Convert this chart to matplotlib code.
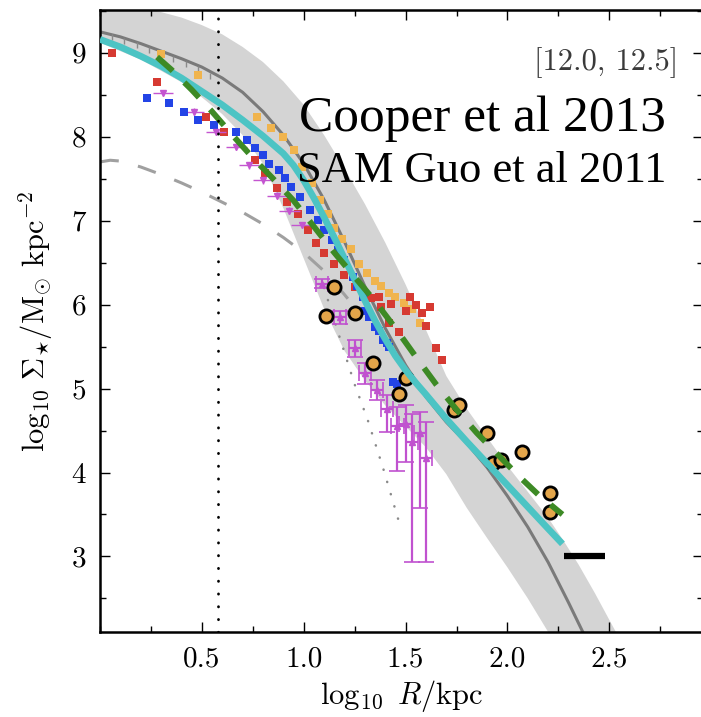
import matplotlib
matplotlib.use("Agg")
import matplotlib.pyplot as plt
from matplotlib.ticker import MultipleLocator

plt.rcParams['mathtext.fontset'] = 'cm'
plt.rcParams['font.family'] = ['cmr10', 'DejaVu Serif']
plt.rcParams['axes.formatter.use_mathtext'] = True

# ---------------- data ----------------
band_up_x = [0.0, 0.2, 0.4, 0.5, 0.6, 0.7, 0.8, 0.9, 1.0, 1.1, 1.2, 1.3, 1.4, 1.5, 1.6, 1.7,
             1.8, 1.9, 2.0, 2.1, 2.2, 2.28, 2.35, 2.43, 2.51, 2.6]
band_up_y = [9.62, 9.55, 9.42, 9.33, 9.22, 9.07, 8.89, 8.66, 8.38, 8.02, 7.62, 7.2, 6.74, 6.24,
             5.7, 5.15, 4.76, 4.42, 4.08, 3.77, 3.46, 3.17, 2.9, 2.56, 2.2, 1.8]
band_lo_x = [0.0, 0.2, 0.4, 0.5, 0.6, 0.7, 0.8, 0.9, 1.0, 1.1, 1.2, 1.3, 1.4, 1.5, 1.6, 1.7,
             1.8, 1.9, 2.0, 2.1, 2.2, 2.3]
band_lo_y = [9.12, 8.92, 8.65, 8.47, 8.27, 8.02, 7.68, 7.15, 6.55, 5.95, 5.45, 5.1, 4.8, 4.55,
             4.3, 3.98, 3.58, 3.22, 2.87, 2.5, 2.1, 1.75]

gray_x = [0.0, 0.1, 0.2, 0.3, 0.4, 0.5, 0.6, 0.7, 0.8, 0.9, 1.0, 1.1, 1.2, 1.3, 1.4, 1.5, 1.6,
          1.7, 1.8, 1.9, 2.0, 2.1, 2.2, 2.3, 2.4]
gray_y = [9.25, 9.19, 9.11, 9.02, 8.93, 8.83, 8.70, 8.53, 8.30, 8.02, 7.68, 7.25, 6.75, 6.22,
          5.72, 5.28, 4.90, 4.60, 4.35, 4.06, 3.72, 3.35, 2.93, 2.45, 1.95]

gray_tick_x = [0.06, 0.12, 0.18, 0.24, 0.30, 0.36, 0.42, 0.48, 0.54]
gray_tick_y = [9.22, 9.18, 9.13, 9.07, 9.02, 8.96, 8.90, 8.84, 8.76]

dash_x = [0.0, 0.05, 0.1, 0.2, 0.3, 0.4, 0.5, 0.6, 0.7, 0.8, 0.9, 1.0, 1.1, 1.2, 1.28]
dash_y = [7.70, 7.72, 7.71, 7.64, 7.55, 7.45, 7.34, 7.22, 7.10, 6.96, 6.80, 6.62, 6.40, 6.12, 5.88]

dot_x = [1.1, 1.17, 1.25, 1.315, 1.39, 1.48]
dot_y = [6.2, 5.66, 5.05, 4.62, 4.05, 3.31]

cyan_x = [0.0, 0.1, 0.2, 0.3, 0.4, 0.5, 0.6, 0.7, 0.8, 0.9, 0.95, 1.0, 1.05, 1.1, 1.15, 1.2,
          1.25, 1.3, 1.35, 1.4, 1.45, 1.5, 1.55, 1.6, 1.7, 1.8, 1.9, 2.0, 2.1, 2.2, 2.27]
cyan_y = [9.16, 9.07, 8.96, 8.84, 8.70, 8.54, 8.38, 8.20, 8.01, 7.80, 7.66, 7.48, 7.27, 7.04,
          6.80, 6.55, 6.30, 6.05, 5.81, 5.59, 5.39, 5.22, 5.07, 4.93, 4.64, 4.37, 4.11, 3.85,
          3.59, 3.33, 3.15]

green_x = [0.28, 0.35, 0.45, 0.55, 0.65, 0.75, 0.85, 0.95, 1.05, 1.15, 1.25, 1.35, 1.45, 1.55,
           1.65, 1.75, 1.85, 1.95, 2.05, 2.15, 2.27]
green_y = [8.95, 8.80, 8.56, 8.30, 8.02, 7.75, 7.50, 7.24, 6.93, 6.62, 6.33, 6.04, 5.72, 5.38,
           5.05, 4.75, 4.47, 4.22, 3.97, 3.74, 3.50]

red_x = [0.06, 0.28, 0.52, 0.61, 0.76, 0.81, 0.87, 0.92, 0.97, 1.02, 1.06, 1.10, 1.15, 1.20,
         1.25, 1.29, 1.33, 1.37, 1.38, 1.42, 1.43, 1.47, 1.50, 1.52, 1.55, 1.58, 1.60, 1.62,
         1.65, 1.68]
red_y = [9.00, 8.65, 8.24, 8.06, 7.72, 7.57, 7.39, 7.22, 7.08, 6.89, 6.73, 6.61, 6.49, 6.35,
         6.21, 6.14, 6.08, 6.09, 5.97, 5.78, 6.01, 5.67, 5.92, 6.09, 5.99, 5.90, 5.75, 5.97,
         5.48, 5.34]

blue_x = [0.23, 0.34, 0.41, 0.48, 0.56, 0.67, 0.72, 0.76, 0.80, 0.83, 0.88, 0.91, 0.94, 0.98,
          1.03, 1.07, 1.10, 1.14, 1.17, 1.20, 1.24, 1.26, 1.29, 1.30, 1.32, 1.35, 1.37, 1.39,
          1.41, 1.42, 1.44, 1.46]
blue_y = [8.46, 8.40, 8.30, 8.20, 8.14, 8.06, 7.96, 7.87, 7.78, 7.68, 7.60, 7.51, 7.40, 7.28,
          7.13, 7.01, 6.89, 6.77, 6.65, 6.53, 6.33, 6.22, 6.09, 5.93, 5.85, 5.73, 5.69, 5.58,
          5.54, 5.49, 5.08, 5.06]

orange_x = [0.30, 0.48, 0.77, 0.84, 0.90, 0.95, 0.99, 1.04, 1.08, 1.12, 1.15, 1.19, 1.23,
            1.27, 1.31, 1.35, 1.38, 1.42, 1.45, 1.49, 1.53, 1.57, 1.60]
orange_y = [8.98, 8.74, 8.24, 8.10, 8.00, 7.84, 7.64, 7.45, 7.25, 7.08, 6.91, 6.78, 6.66,
            6.49, 6.38, 6.28, 6.22, 6.14, 6.09, 6.02, 5.95, 5.78, 5.75]

mag_up_x = [0.31, 0.46, 0.57, 0.67, 0.73, 0.80, 0.87, 0.93, 0.99]
mag_up_y = [8.52, 8.30, 8.06, 7.88, 7.66, 7.48, 7.30, 7.12, 6.95]

mag_lo_x = [1.09, 1.18, 1.25, 1.30, 1.36, 1.41, 1.46, 1.50, 1.53, 1.57, 1.60]
mag_lo_y = [6.25, 5.85, 5.48, 5.18, 4.98, 4.76, 4.56, 4.58, 4.36, 4.47, 4.17]
mag_lo_em = [0.05, 0.08, 0.10, 0.12, 0.12, 0.28, 0.54, 0.46, 1.43, 0.89, 1.24]
mag_lo_ep = [0.05, 0.08, 0.10, 0.12, 0.12, 0.16, 0.22, 0.22, 0.34, 0.25, 0.43]

circ_x = [1.11, 1.15, 1.25, 1.34, 1.47, 1.50, 1.74, 1.76, 1.90, 1.93, 1.97, 2.07, 2.21, 2.21]
circ_y = [5.87, 6.21, 5.90, 5.31, 4.93, 5.12, 4.75, 4.80, 4.47, 4.11, 4.15, 4.25, 3.75, 3.53]

bar_x = [2.28, 2.48]
bar_y = [3.0, 3.0]
vline_x = 0.58

# ---------------- figure ----------------
fig = plt.figure(figsize=(7.01, 7.17), dpi=100)
ax = fig.add_axes([100/701, 85/717, 603/701, 622/717])

poly_x = list(band_up_x) + list(band_lo_x[::-1])
poly_y = list(band_up_y) + list(band_lo_y[::-1])
ax.fill(poly_x, poly_y, color='#d4d4d4', lw=0, zorder=1)

ax.plot(gray_x, gray_y, color='#7a7a7a', lw=2.2, zorder=2)
ax.vlines(gray_tick_x, [y - 0.07 for y in gray_tick_y], gray_tick_y, color='#8a8a8a', lw=1.0, zorder=2)
ax.plot(dash_x, dash_y, color='#a0a0a0', lw=2.2, ls=(0, (6.2, 6.5)), zorder=2)
ax.plot(dot_x, dot_y, color='#8a8a8a', lw=1.8, ls=(0, (0.1, 5.0)), dash_capstyle='round', zorder=2)

ms = 5.2
ax.plot(orange_x, orange_y, 's', color='#f0b44e', ms=ms, mew=0, zorder=3)
ax.plot(red_x, red_y, 's', color='#d63a32', ms=ms, mew=0, zorder=3)
ax.errorbar(mag_up_x, mag_up_y, xerr=0.05, yerr=0.04, fmt='v', color='#c455d0',
            ms=5, elinewidth=1.0, capsize=0, zorder=3)
ax.plot(blue_x, blue_y, 's', color='#2344e6', ms=ms, mew=0, zorder=3)
ax.errorbar(mag_lo_x, mag_lo_y, yerr=[mag_lo_em, mag_lo_ep], xerr=0.03, fmt='^',
            color='#c052cf', ms=5, elinewidth=1.6, capsize=6, capthick=1.2, zorder=3)

ax.plot(circ_x, circ_y, 'o', mfc='#e3a54a', mec='black', ms=9.5, mew=2.0, zorder=4)
ax.plot(cyan_x, cyan_y, color='#4cc4c4', lw=4.8, solid_capstyle='butt', zorder=5)
ax.plot(green_x, green_y, color='#3d8a25', lw=4.2, ls=(0, (3.6, 2.8)), zorder=6)

ax.plot(bar_x, bar_y, color='black', lw=4.5, solid_capstyle='butt', zorder=7)
ax.axvline(vline_x, color='black', lw=2.0, ls=(0, (0.1, 4.5)), dash_capstyle='round', zorder=7)

ax.set_xlim(0.0, 2.96)
ax.set_ylim(2.1, 9.51)
ax.xaxis.set_minor_locator(MultipleLocator(0.25))
ax.yaxis.set_minor_locator(MultipleLocator(0.5))
ax.set_xticks([0.5, 1.0, 1.5, 2.0, 2.5])
ax.set_xticklabels(['0.5', '1.0', '1.5', '2.0', '2.5'])
ax.set_yticks([3, 4, 5, 6, 7, 8, 9])
ax.set_yticklabels(['3', '4', '5', '6', '7', '8', '9'])
ax.tick_params(which='both', direction='in', top=True, right=True, labelsize=21, width=1.0)
ax.tick_params(which='major', length=7, pad=10)
ax.tick_params(which='minor', length=4)
for s in ax.spines.values():
    s.set_linewidth(1.8)

ax.set_xlabel(r'$\log_{10}\ R/\mathrm{kpc}$', fontsize=22, labelpad=4)
ax.set_ylabel(r'$\log_{10}\,\Sigma_{\star}/\mathrm{M}_{\odot}\ \mathrm{kpc}^{-2}$', fontsize=22, labelpad=12)

ax.text(2.84, 8.88, '[12.0, 12.5]', fontsize=22, color='#3a3a3a', ha='right', va='center')
ax.text(2.78, 8.07, 'Cooper et al 2013', fontsize=37, family='Liberation Serif',
        ha='right', va='baseline', color='black', zorder=8)
ax.text(2.78, 7.46, 'SAM Guo et al 2011', fontsize=32, family='Liberation Serif',
        ha='right', va='baseline', color='black', zorder=8)

fig.savefig('out.png', dpi=100)
